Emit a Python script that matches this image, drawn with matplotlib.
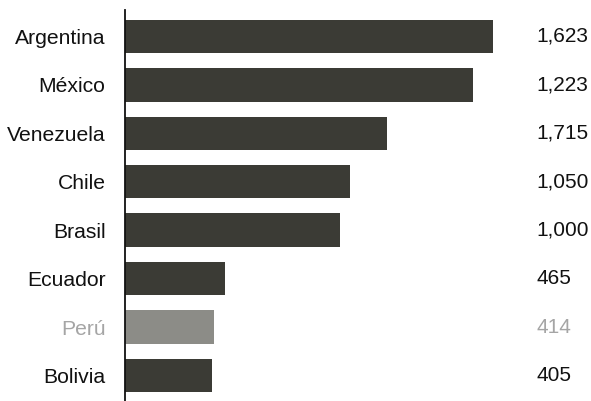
import numpy as np
import matplotlib.pyplot as plt

plt.rcParams['font.family'] = ['Liberation Sans', 'DejaVu Sans']

countries = ['Argentina', 'México', 'Venezuela', 'Chile', 'Brasil', 'Ecuador', 'Perú', 'Bolivia']
bar_values = [1715, 1623, 1223, 1050, 1000, 465, 414, 405]
value_labels = ['1,623', '1,223', '1,715', '1,050', '1,000', '465', '414', '405']
highlight = 'Perú'

dark = '#3b3b35'
light_bar = '#8c8c87'
light_text = '#a5a5a5'

fig = plt.figure(figsize=(5.91, 4.01), dpi=100)
ax = fig.add_axes([125 / 591, 0, 427 / 591, 391 / 401])

y = np.arange(len(countries))
colors = [light_bar if c == highlight else dark for c in countries]
ax.barh(y, bar_values, height=0.69, color=colors, left=0)

ax.set_xlim(0, 1990)
ax.set_ylim(7.527, -0.547)

for s in ['top', 'right', 'bottom']:
    ax.spines[s].set_visible(False)
ax.spines['left'].set_linewidth(1.3)
ax.spines['left'].set_color('#111111')

ax.set_xticks([])
ax.set_yticks(y)
ax.set_yticklabels(countries, fontsize=15.2)
ax.tick_params(axis='y', length=0, pad=14)
for lbl, c in zip(ax.get_yticklabels(), countries):
    lbl.set_color(light_text if c == highlight else '#111111')

# value column on the right
for i, (c, t) in enumerate(zip(countries, value_labels)):
    ax.text(1918, i, t, ha='left', va='center', fontsize=15,
            color=light_text if c == highlight else '#111111', clip_on=False)

fig.savefig('out.png', dpi=100, facecolor='white')
